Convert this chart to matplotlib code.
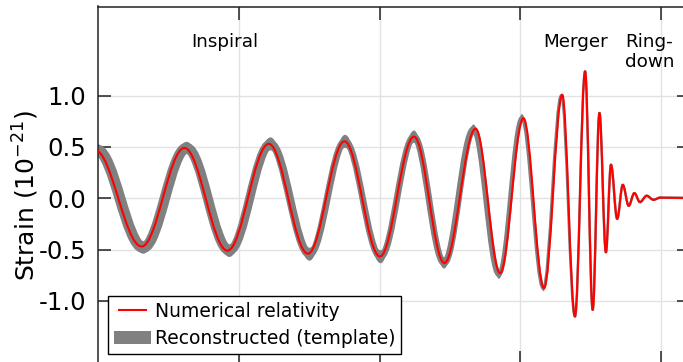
import numpy as np
import matplotlib
matplotlib.use("Agg")
import matplotlib.pyplot as plt
from matplotlib.path import Path
from matplotlib.patches import PathPatch, Patch
from matplotlib.lines import Line2D
from matplotlib.ticker import FixedLocator, FixedFormatter

# ---------------- data ----------------
# Numerical relativity waveform: successive extrema (time in s, strain in 1e-21)
nr_time = [0.2488, 0.2654, 0.2806, 0.2959, 0.3106, 0.3245, 0.3375, 0.3501,
           0.3622, 0.3730, 0.3841, 0.3928, 0.4011, 0.4084, 0.4149, 0.4194,
           0.4230, 0.4257, 0.4281, 0.4304, 0.4322, 0.4344, 0.4364, 0.4385,
           0.4405, 0.4425, 0.4449, 0.4473, 0.4497, 0.4700]
nr_strain = [0.47, -0.47, 0.49, -0.51, 0.53, -0.54, 0.555, -0.567,
             0.60, -0.63, 0.677, -0.73, 0.78, -0.875, 1.008, -1.15,
             1.235, -1.086, 0.83, -0.525, 0.326, -0.20, 0.13, -0.073,
             0.05, -0.037, 0.024, -0.015, 0.006, 0.0]

# Reconstructed template: extrema of the band centre and band half-width
rec_time = [0.2495, 0.2660, 0.2814, 0.2966, 0.3112, 0.3251, 0.3377, 0.3503,
            0.3622, 0.3729, 0.3834, 0.3924, 0.4006, 0.4082, 0.4146, 0.4194,
            0.4230, 0.4257, 0.4281, 0.4304, 0.4322, 0.4344, 0.4364, 0.4385,
            0.4405, 0.4425, 0.4449, 0.4473, 0.4497, 0.4700]
rec_strain = [0.47, -0.48, 0.49, -0.51, 0.53, -0.545, 0.555, -0.57,
              0.60, -0.63, 0.67, -0.74, 0.78, -0.875, 1.00, -1.15,
              1.235, -1.086, 0.83, -0.525, 0.326, -0.20, 0.13, -0.073,
              0.05, -0.037, 0.024, -0.015, 0.006, 0.0]
rec_halfwidth = [0.058, 0.060, 0.060, 0.062, 0.063, 0.063, 0.063, 0.063,
                 0.060, 0.055, 0.048, 0.045, 0.040, 0.030, 0.020, 0.015,
                 0.010, 0.010, 0.005, 0.0, 0.0, 0.0, 0.0, 0.0,
                 0.0, 0.0, 0.0, 0.0, 0.0, 0.0]

phase_labels = ["Inspiral", "Merger", "Ring-\ndown"]
phase_x = [0.2950, 0.4198, 0.4372]
phase_y_top = 1.611

y_ticks = [-1.0, -0.5, 0.0, 0.5, 1.0]
y_tick_labels = ["-1.0", "-0.5", "0.0", "0.5", "1.0"]
x_ticks = [0.30, 0.35, 0.40, 0.45]
legend_labels = ["Numerical relativity", "Reconstructed (template)"]
y_label = "Strain (10$^{-21}$)"

# ---------------- styles ----------------
RED = "#ff0000"
GRAY = "#808080"
# stroke width (pt) of the grey band for each half cycle
band_stroke_pt = [7.9, 7.6, 7.2, 6.5, 5.8, 5.0, 4.7, 4.7, 4.7, 4.7, 4.0,
                  3.3, 2.6, 2.2, 1.9, 1.8, 1.8, 1.8, 1.8, 1.8, 1.8, 1.8,
                  1.8, 1.8, 1.8, 1.8, 1.8, 1.8, 1.8]

K = (np.pi - 2.0) / np.pi  # Bezier handle fraction giving sine-like half cycles


def bezier(t, y):
    verts = [(t[0], y[0])]
    codes = [Path.MOVETO]
    for i in range(len(t) - 1):
        dt = t[i + 1] - t[i]
        verts += [(t[i] + K * dt, y[i]), (t[i + 1] - K * dt, y[i + 1]),
                  (t[i + 1], y[i + 1])]
        codes += [Path.CURVE4] * 3
    return verts, codes


fig = plt.figure(figsize=(6.83, 3.62), dpi=100)
fig.patch.set_facecolor("white")
ax = fig.add_axes([98.3 / 683, -0.5 / 362, (689.2 - 98.3) / 683, 356.0 / 362])

# grey band: vertical band (fill) ...
rt = np.array(rec_time)
rs = np.array(rec_strain)
rh = np.array(rec_halfwidth)
vu, cu = bezier(rt, rs + rh)
vl, cl = bezier(rt[::-1], (rs - rh)[::-1])
cl[0] = Path.LINETO
verts = vu + vl + [vu[0]]
codes = cu + cl + [Path.CLOSEPOLY]
ax.add_patch(PathPatch(Path(verts, codes), facecolor=GRAY, edgecolor="none",
                       zorder=2))
# ... plus a stroke along its centre, half cycle by half cycle
for i in range(len(rt) - 1):
    v, c = bezier(rt[i:i + 2], rs[i:i + 2])
    ax.add_patch(PathPatch(Path(v, c), facecolor="none", edgecolor=GRAY,
                           lw=band_stroke_pt[min(i, len(band_stroke_pt) - 1)],
                           capstyle="round", zorder=2))

# red numerical relativity curve
v, c = bezier(np.array(nr_time), np.array(nr_strain))
ax.add_patch(PathPatch(Path(v, c), facecolor="none", edgecolor=RED, lw=1.5,
                       joinstyle="round", zorder=3))

ax.set_xlim(0.25, 0.46)
ax.set_ylim(-1.600, 1.868)

# axes styling
for s in ax.spines.values():
    s.set_linewidth(1.1)
    s.set_color("#222222")
ax.xaxis.set_major_locator(FixedLocator(x_ticks))
ax.yaxis.set_major_locator(FixedLocator(y_ticks))
ax.yaxis.set_major_formatter(FixedFormatter(y_tick_labels))
ax.tick_params(direction="in", length=9, width=1.1, top=True, right=True,
               labelbottom=False, labelsize=17.6, pad=8.5, color="#222222")
ax.grid(True, color="#e2e2e2", lw=1.0)
ax.set_axisbelow(True)

ax.set_ylabel(y_label, fontsize=18)
ax.yaxis.set_label_coords(-0.097, 0.47)

for lab, x in zip(phase_labels, phase_x):
    ha = "left" if "\n" in lab else "center"
    ax.text(x, phase_y_top, lab, ha=ha, va="top", fontsize=13.2,
            linespacing=1.15, zorder=5)

handles = [Line2D([], [], color=RED, lw=1.5),
           Patch(facecolor=GRAY, edgecolor="none")]
leg = ax.legend(handles, legend_labels, loc="lower left",
                bbox_to_anchor=(108 / 683, 8 / 362),
                bbox_transform=fig.transFigure, borderaxespad=0,
                numpoints=2, handlelength=2.0, handletextpad=0.2,
                borderpad=0.3, labelspacing=0.45, fancybox=False,
                framealpha=1, edgecolor="black", fontsize=13.5)
leg.get_frame().set_linewidth(1.0)
leg.set_zorder(10)

fig.savefig("out.png", dpi=100, facecolor="white")
